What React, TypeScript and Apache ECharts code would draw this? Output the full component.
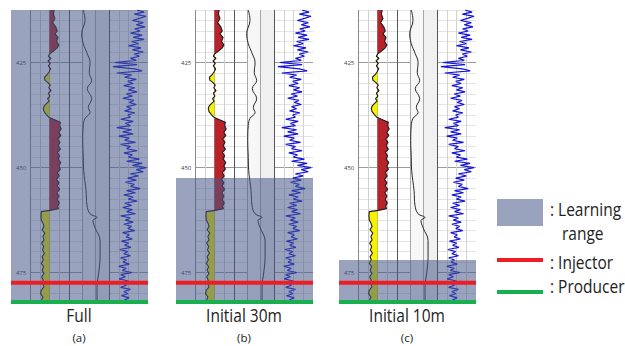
import React, { useEffect, useRef } from 'react';
import * as echarts from 'echarts';

// ---------- data ----------
const PANEL_TITLES = ['Full', 'Initial 30m', 'Initial 10m'];
const PANEL_TAGS = ['(a)', '(b)', '(c)'];
const LEARNING_TOP = [412.5, 452.5, 472.0];
const DEPTH_MIN = 412.5;
const DEPTH_MAX = 482;
const INJECTOR_DEPTH = 477.4;
const PRODUCER_DEPTH = 482;
const DEPTH_LABELS = [425, 450, 475];
const LEGEND_TEXTS = [': Learning', 'range', ': Injector', ': Producer'];

// Track 1 : shale indicator log with baseline fill
const GR_BASE = 50;
const GR_DEPTH = [
  412.5, 413.5, 414.5, 415.5, 416.5, 417.5, 418.2, 419, 420, 420.8, 421.5, 422.3, 423, 423.5, 424,
  424.6, 425.2, 425.8, 426.5, 427.2, 427.9, 428.5, 429.2, 429.8, 430.4, 431, 431.7, 432.3, 433,
  433.6, 434.2, 434.8, 435.4, 436, 436.7, 437.4, 438, 438.5, 439.2, 440, 440.8, 441.6, 442.4, 443.2,
  444, 444.8, 445.6, 446.4, 447.2, 448, 448.8, 449.6, 450.4, 451.2, 452, 452.8, 453.6, 454.4, 455.2,
  456, 456.8, 457.6, 458.4, 459.2, 459.8, 460.2, 460.5, 461.5, 462.5, 463.2, 464, 464.8, 465.6,
  466.4, 467.2, 468, 468.8, 469.6, 470.4, 471.2, 472, 472.8, 473.6, 474.4, 475.2, 476, 476.8,
  477.6, 478.4, 479.2, 480, 480.8, 481.5, 482,
];
const GR_VALUE = [
  62, 60, 64, 58, 66, 70, 64, 72, 68, 74, 70, 60, 50, 47, 54,
  46, 52, 47, 53, 49, 44, 37, 38, 46, 52, 48, 54, 47, 51,
  45, 49, 42, 36, 34, 36, 42, 48, 60, 78, 76, 80, 74, 79, 71,
  77, 72, 78, 70, 76, 72, 79, 74, 78, 70, 75, 68, 74, 70, 76,
  69, 74, 70, 75, 71, 73, 52, 29, 28, 29, 33, 36, 31, 38,
  33, 36, 30, 35, 32, 37, 31, 34, 29, 35, 31, 36, 30, 34,
  32, 36, 29, 27, 33, 30, 32,
];

// Track 2 : smooth log
const MID_DEPTH = [
  412.5, 415, 418.1, 420.5, 422.9, 425, 427.4, 429.3, 431.2, 433.6, 435.7, 436.9, 438.3, 440,
  443.6, 447.6, 450.7, 455.5, 459, 461, 461.9, 462.6, 464.3, 467.4, 471.4, 474.5, 478.6, 482,
];
const MID_VALUE = [
  1.07, 1.2, 0.95, 1.07, 1.37, 1.58, 1.52, 1.7, 1.37, 1.7, 1.45, 1.58, 1.2, 1.07,
  1.03, 1.07, 1.1, 1.28, 1.35, 1.58, 2.1, 1.8, 1.95, 2.33, 2.33, 2.25, 2.1, 2.1,
];

// Track 3 : spiky log
const SPIKY_DEPTH = [
  412.5, 413, 413.5, 414, 414.5, 415, 415.5, 416, 416.5, 417, 417.5, 418, 418.5, 419, 419.5, 420,
  420.5, 421, 421.5, 422, 422.5, 423, 423.5, 424, 424.5, 425, 425.5, 426, 426.5, 427, 427.5, 428,
  428.5, 429, 429.5, 430, 430.5, 431, 431.5, 432, 432.5, 433, 433.5, 434, 434.5, 435, 435.5, 436,
  436.5, 437, 437.5, 438, 438.5, 439, 439.5, 440, 440.5, 441, 441.5, 442, 442.5, 443, 443.5, 444,
  444.5, 445, 445.5, 446, 446.5, 447, 447.5, 448, 448.5, 449, 449.5, 450, 450.5, 451, 451.5, 452,
  452.5, 453, 453.5, 454, 454.5, 455, 455.5, 456, 456.5, 457, 457.5, 458, 458.5, 459, 459.5, 460,
  460.5, 461, 461.5, 462, 462.5, 463, 463.5, 464, 464.5, 465, 465.5, 466, 466.5, 467, 467.5, 468,
  468.5, 469, 469.5, 470, 470.5, 471, 471.5, 472, 472.5, 473, 473.5, 474, 474.5, 475, 475.5, 476,
  476.5, 477, 477.5, 478, 478.5, 479, 479.5, 480, 480.5, 481, 481.5, 482,
];
const SPIKY_VALUE = [
  72, 90, 65, 95, 78, 60, 88, 70, 92, 66, 80, 55, 85, 62, 90, 58,
  75, 50, 82, 60, 88, 65, 78, 55, 70, 15, 72, 10, 65, 85, 20, 58,
  40, 70, 48, 62, 38, 66, 50, 72, 44, 60, 35, 64, 52, 70, 45, 58,
  40, 66, 48, 55, 30, 62, 42, 55, 20, 58, 35, 62, 25, 52, 40, 68,
  30, 55, 45, 72, 38, 60, 50, 78, 45, 85, 60, 95, 70, 88, 55, 75,
  48, 70, 42, 65, 55, 80, 45, 68, 38, 62, 50, 72, 40, 58, 35, 60,
  45, 68, 30, 55, 42, 62, 38, 58, 48, 66, 35, 52, 44, 60, 32, 50,
  40, 56, 28, 48, 38, 55, 30, 45, 36, 52, 25, 44, 34, 58, 30, 42,
  26, 50, 35, 45, 30, 55, 38, 48, 32, 52, 40, 45,
];

// ---------- layout / style ----------
const PANEL_LEFT = [11, 176, 339];
const PANEL_WIDTH = 137;
const PANEL_CENTER = [79, 244, 407];
const TOP = 10;
const HEIGHT = 292;
const TRACKS = [
  { off: 19, w: 39 },
  { off: 58, w: 40 },
  { off: 98, w: 39 },
];
const RED_FILL = '#b8232b';
const YELLOW_FILL = '#f7f200';
const OVERLAY = 'rgba(70,88,135,0.55)';
const INJ_COLOR = '#ee1c24';
const PROD_COLOR = '#16b04e';
const FONT = '"Open Sans", "Noto Sans", sans-serif';

const minorRow = ['#e4e4e4', '#e4e4e4', '#e4e4e4', '#e4e4e4', '#e4e4e4', '#9c9c9c', '#e4e4e4', '#e4e4e4', '#e4e4e4', '#e4e4e4'];

function buildOption() {
  const grid: any[] = [];
  const xAxis: any[] = [];
  const yAxis: any[] = [];
  const series: any[] = [];

  PANEL_LEFT.forEach((pl, i) => {
    const base = i * 4;
    // panel grid
    grid.push({ left: pl, top: TOP, width: PANEL_WIDTH, height: HEIGHT });
    xAxis.push({ gridIndex: base, type: 'value', min: 0, max: 1, show: false });
    yAxis.push({
      gridIndex: base, type: 'value', inverse: true, min: DEPTH_MIN, max: DEPTH_MAX, interval: 12.5,
      axisLine: { show: false }, axisTick: { show: false }, splitLine: { show: false },
      axisLabel: {
        inside: true, margin: 5, fontSize: 6, color: '#444', fontFamily: FONT,
        formatter: (v: number) => (DEPTH_LABELS.includes(v) ? String(v) : ''),
      },
    });
    // tracks
    const xDefs = [
      { min: 0, max: 100, interval: 25, colors: ['#8a8a8a', '#cfcfcf', '#9a9a9a', '#cfcfcf', '#555'] },
      { min: 0, max: 3, interval: 1, colors: ['#555', '#a8a8a8', '#a8a8a8', '#555'] },
      { min: 0, max: 100, interval: 25, colors: ['#555', '#d2d2d2', '#d2d2d2', '#d2d2d2', 'rgba(0,0,0,0)'] },
    ];
    TRACKS.forEach((t, k) => {
      grid.push({ left: pl + t.off, top: TOP, width: t.w, height: HEIGHT });
      const d = xDefs[k];
      xAxis.push({
        gridIndex: base + 1 + k, type: 'value', min: d.min, max: d.max, interval: d.interval,
        axisLabel: { show: false }, axisLine: { show: false }, axisTick: { show: false },
        splitLine: { show: true, lineStyle: { color: d.colors, width: 1 } },
        splitArea: k === 1 ? { show: true, areaStyle: { color: ['rgba(0,0,0,0)', '#f7f7f7', '#f0f0f0'] } } : { show: false },
      });
      yAxis.push({
        gridIndex: base + 1 + k, type: 'value', inverse: true, min: DEPTH_MIN, max: DEPTH_MAX, interval: 2.5,
        axisLabel: { show: false }, axisLine: { show: false }, axisTick: { show: false },
        splitLine: { show: true, lineStyle: { color: minorRow, width: 1 } },
      });
    });

    // GR fill
    series.push({
      type: 'custom', xAxisIndex: base + 1, yAxisIndex: base + 1, data: [[GR_BASE, 450]], z: 2,
      renderItem: (params: any, api: any) => {
        const red: number[][] = [];
        const yel: number[][] = [];
        GR_DEPTH.forEach((d, j) => {
          const v = GR_VALUE[j];
          red.push(api.coord([Math.max(v, GR_BASE), d]));
          yel.push(api.coord([Math.min(v, GR_BASE), d]));
        });
        const top = api.coord([GR_BASE, GR_DEPTH[0]]);
        const bot = api.coord([GR_BASE, GR_DEPTH[GR_DEPTH.length - 1]]);
        red.push(bot, top);
        yel.push(bot, top);
        return {
          type: 'group',
          children: [
            { type: 'polygon', shape: { points: red }, style: { fill: RED_FILL } },
            { type: 'polygon', shape: { points: yel }, style: { fill: YELLOW_FILL } },
          ],
        };
      },
    });
    series.push({
      type: 'line', xAxisIndex: base + 1, yAxisIndex: base + 1, symbol: 'none', z: 3,
      lineStyle: { color: '#1a1a1a', width: 1.1 },
      data: GR_DEPTH.map((d, j) => [GR_VALUE[j], d]),
    });
    series.push({
      type: 'line', xAxisIndex: base + 2, yAxisIndex: base + 2, symbol: 'none', smooth: 0.4, z: 3,
      lineStyle: { color: '#2a2a2a', width: 1 },
      data: MID_DEPTH.map((d, j) => [MID_VALUE[j], d]),
    });
    series.push({
      type: 'line', xAxisIndex: base + 3, yAxisIndex: base + 3, symbol: 'none', z: 3,
      lineStyle: { color: '#1414d8', width: 1.2 },
      data: SPIKY_DEPTH.map((d, j) => [SPIKY_VALUE[j], d]),
    });
    // learning range overlay + well lines
    const learnTop = LEARNING_TOP[i];
    series.push({
      type: 'custom', xAxisIndex: base, yAxisIndex: base, data: [[0.5, 450]], z: 10, clip: false,
      renderItem: (params: any, api: any) => {
        const a = api.coord([0, learnTop]);
        const b = api.coord([1, DEPTH_MAX]);
        const r1 = api.coord([0, INJECTOR_DEPTH]);
        const r2 = api.coord([1, INJECTOR_DEPTH]);
        const g1 = api.coord([0, PRODUCER_DEPTH]);
        const g2 = api.coord([1, PRODUCER_DEPTH]);
        return {
          type: 'group',
          children: [
            { type: 'rect', shape: { x: a[0], y: a[1], width: b[0] - a[0], height: b[1] - a[1] }, style: { fill: OVERLAY } },
            { type: 'line', shape: { x1: r1[0], y1: r1[1], x2: r2[0], y2: r2[1] }, style: { stroke: INJ_COLOR, lineWidth: 4 } },
            { type: 'line', shape: { x1: g1[0], y1: g1[1], x2: g2[0], y2: g2[1] }, style: { stroke: PROD_COLOR, lineWidth: 4 } },
          ],
        };
      },
    });
  });

  const graphic: any[] = [];
  PANEL_TITLES.forEach((t, i) => {
    graphic.push({
      type: 'text', x: PANEL_CENTER[i], y: 315, scaleY: 1.2,
      style: { text: t, fontSize: 15.5, fill: '#222', align: 'center', verticalAlign: 'middle', fontFamily: FONT },
    });
    graphic.push({
      type: 'text', x: PANEL_CENTER[i], y: 337,
      style: { text: PANEL_TAGS[i], fontSize: 11.5, fill: '#222', align: 'center', verticalAlign: 'middle', fontFamily: FONT },
    });
  });
  // legend
  graphic.push({ type: 'rect', shape: { x: 497, y: 199, width: 46, height: 27 }, style: { fill: OVERLAY } });
  graphic.push({ type: 'line', shape: { x1: 497, y1: 260, x2: 543, y2: 260 }, style: { stroke: INJ_COLOR, lineWidth: 4 } });
  graphic.push({ type: 'line', shape: { x1: 497, y1: 292, x2: 543, y2: 292 }, style: { stroke: PROD_COLOR, lineWidth: 4 } });
  const legendPos = [[550, 209], [562, 233], [550, 262], [550, 286]];
  LEGEND_TEXTS.forEach((t, k) => {
    graphic.push({
      type: 'text', x: legendPos[k][0], y: legendPos[k][1], scaleY: 1.15,
      style: { text: t, fontSize: 15.5, fill: '#222', align: 'left', verticalAlign: 'middle', fontFamily: FONT },
    });
  });

  return { animation: false, backgroundColor: '#ffffff', grid, xAxis, yAxis, series, graphic };
}

export default function App() {
  const ref = useRef<HTMLDivElement>(null);
  useEffect(() => {
    if (!ref.current) return;
    const chart = echarts.init(ref.current, undefined, { renderer: 'svg' });
    chart.setOption(buildOption() as any);
    return () => chart.dispose();
  }, []);
  return <div ref={ref} style={{ position: 'fixed', left: 0, top: 0, width: 625, height: 346 }} />;
}
